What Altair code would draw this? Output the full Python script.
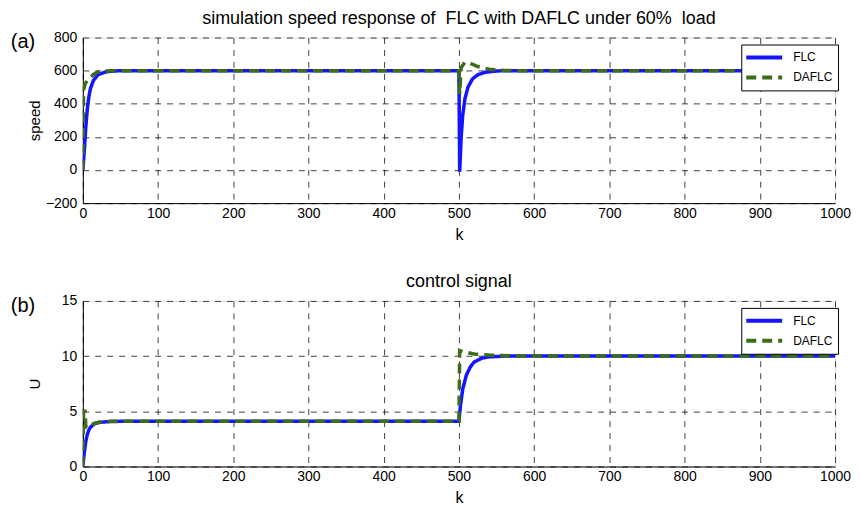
import altair as alt
import pandas as pd

# ---- speed panel (a) ----
k_speed_flc = [0, 2, 4, 6, 8, 10, 14, 20, 30, 40, 60, 500, 501, 503, 505, 508, 512, 518, 525, 535, 550, 565, 1000]
speed_flc = [0, 120, 260, 370, 440, 490, 540, 575, 592, 598, 600, 600, -10, 200, 330, 430, 500, 550, 575, 590, 598, 600, 600]
k_speed_daflc = [0, 1, 3, 6, 10, 15, 20, 30, 40, 500, 501, 503, 508, 515, 525, 540, 560, 580, 1000]
speed_daflc = [0, 480, 520, 540, 560, 580, 592, 598, 600, 600, 460, 620, 650, 645, 625, 608, 601, 600, 600]

# ---- control signal panel (b) ----
k_u_flc = [0, 2, 4, 6, 8, 10, 15, 20, 30, 40, 60, 500, 502, 505, 510, 515, 520, 530, 540, 560, 1000]
u_flc = [0, 1.3, 2.3, 2.9, 3.3, 3.55, 3.85, 3.97, 4.05, 4.08, 4.1, 4.1, 5.5, 7.0, 8.3, 9.0, 9.45, 9.8, 9.93, 10.0, 10.0]
k_u_daflc = [0, 1, 3, 4, 6, 10, 15, 25, 40, 500, 501, 505, 520, 540, 570, 600, 1000]
u_daflc = [0, 5.0, 5.0, 3.6, 3.5, 3.7, 3.9, 4.05, 4.1, 4.1, 10.5, 10.4, 10.2, 10.1, 10.02, 10.0, 10.0]

series = ["FLC", "DAFLC"]
colors = ["#1414ff", "#3b6e16"]
x_ticks = list(range(0, 1001, 100))

def frame(kf, vf, kd, vd):
    return pd.DataFrame({
        "k": kf + kd,
        "v": vf + vd,
        "s": ["FLC"] * len(kf) + ["DAFLC"] * len(kd),
    })

df_a = frame(k_speed_flc, speed_flc, k_speed_daflc, speed_daflc)
df_b = frame(k_u_flc, u_flc, k_u_daflc, u_daflc)

FONT = "Liberation Sans"
W, H = 754, 166

def panel(df, title, ytitle, ydom, ytick, tag):
    legend = alt.Legend(
        title=None, orient="none", legendX=660, legendY=7, fillColor="white",
        strokeColor="black", padding=5, symbolType="M-3,0H3", symbolSize=144,
        symbolStrokeWidth=4, symbolOffset=10, labelFont=FONT, labelFontSize=12,
        rowPadding=4, labelOffset=21, labelColor="#000",
    )
    lines = alt.Chart(df).mark_line(strokeWidth=3.5, clip=True).encode(
        x=alt.X("k:Q", scale=alt.Scale(domain=[0, 1000], nice=False),
                axis=alt.Axis(values=x_ticks, format="d", title="k", titleFont=FONT,
                              titleFontSize=16, titleFontWeight="normal", titlePadding=6,
                              labelFont=FONT, labelFontSize=14, labelPadding=3, ticks=False,
                              grid=True, gridColor="#000", gridDash=[6, 6], gridOpacity=0.75,
                              domainColor="#000", labelColor="#000", labelFlush=False,
                              titleColor="#000")),
        y=alt.Y("v:Q", scale=alt.Scale(domain=ydom, nice=False),
                axis=alt.Axis(values=ytick, format="d", title=ytitle, titleFont=FONT,
                              titleFontSize=15, titleFontWeight="normal", titleX=-40,
                              titleY=H / 2, labelFont=FONT, labelFontSize=14, labelPadding=6,
                              ticks=False, grid=True, gridColor="#000", gridDash=[6, 6],
                              gridOpacity=0.75, domainColor="#000", labelColor="#000",
                              labelFlush=False, titleColor="#000")),
        color=alt.Color("s:N", scale=alt.Scale(domain=series, range=colors), legend=legend),
        strokeDash=alt.StrokeDash("s:N", scale=alt.Scale(domain=series, range=[[1, 0], [10, 6]]),
                                  legend=legend),
        order=alt.Order("ord:Q"),
    ).transform_calculate(ord="datum.s == 'FLC' ? 0 : 1")
    label = alt.Chart().mark_text(font=FONT, fontSize=20, align="center", baseline="middle",
                                  color="#000").encode(
        x=alt.value(-60), y=alt.value(5), text=alt.value(tag))
    return alt.layer(lines, label).properties(
        width=W, height=H,
        title=alt.TitleParams(title, font=FONT, fontSize=18, fontWeight="normal", offset=3,
                              color="#000"),
    )

top = panel(df_a, "simulation speed response of \u00a0FLC with DAFLC under 60% \u00a0load",
            "speed", [-200, 800], list(range(-200, 801, 200)), "(a)")
bottom = panel(df_b, "control signal", "U", [0, 15], [0, 5, 10, 15], "(b)")

chart = alt.vconcat(top, bottom, spacing=29).resolve_scale(
    color="independent", strokeDash="independent"
).resolve_legend(color="independent", strokeDash="independent").properties(
    padding={"left": 2, "top": 0, "right": 0, "bottom": 0}
).configure_view(
    stroke="#000", strokeWidth=1
).configure(background="white")

chart.save("out.html", embed_options={"renderer": "svg", "actions": False})
